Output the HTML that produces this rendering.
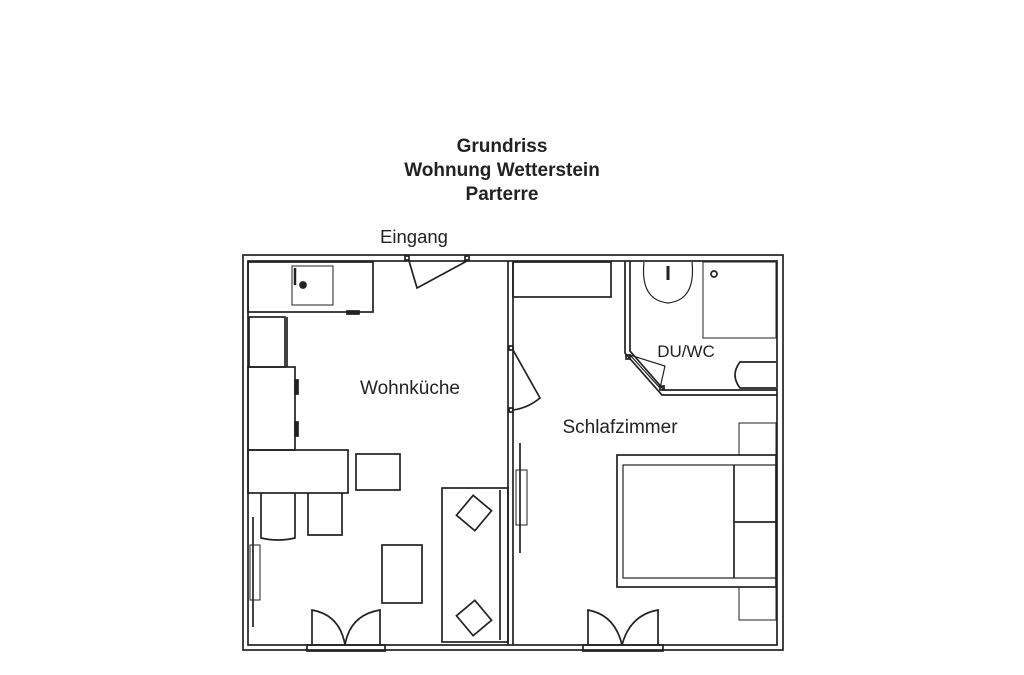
<!DOCTYPE html>
<html><head><meta charset="utf-8"><style>
body{margin:0;background:#fff;width:1024px;height:675px;overflow:hidden}
svg{display:block}
text{font-family:"Liberation Sans",Arial,sans-serif;fill:#222}
</style></head><body>
<svg width="1024" height="675" viewBox="0 0 1024 675" xmlns="http://www.w3.org/2000/svg">
<g font-weight="bold" font-size="19" text-anchor="middle">
<text x="502" y="152">Grundriss</text>
<text x="502" y="176">Wohnung Wetterstein</text>
<text x="502" y="200">Parterre</text>
</g>
<text x="414" y="243" font-size="18.5" text-anchor="middle">Eingang</text>
<g fill="none" stroke="#222" stroke-width="1.7">
<rect x="243" y="255" width="540" height="395"/>
<rect x="248" y="261" width="529" height="384"/>
<line x1="508" y1="261" x2="508" y2="645"/>
<line x1="513" y1="261" x2="513" y2="645"/>
<polyline points="625,261 625,353 662,395 777,395"/>
<polyline points="630,261 630,351 664,390 777,390"/>
<rect x="703" y="262" width="73" height="76" stroke-width="1"/>
<path d="M644,262 Q640,300 668,303 Q696,300 692,262" stroke-width="1.2"/>
<circle cx="714" cy="274" r="3"/>
<line x1="668" y1="266" x2="668" y2="280" stroke-width="3"/>
<path d="M776,362 L740,362 Q730,375 740,388 L776,388"/>
<polygon points="630,355 665,366 660,388 660,388" stroke-width="1.2"/>
<rect x="626" y="355" width="4" height="4"/><rect x="660" y="386" width="4" height="4"/>
<rect x="513" y="262" width="98" height="35"/>
<rect x="509" y="346" width="4" height="4"/><rect x="509" y="408" width="4" height="4"/>
<path d="M513,350 L540,398 Q528,408 513,410"/>
<line x1="520" y1="443" x2="520" y2="553"/><rect x="516" y="470" width="11" height="55" stroke-width="1"/>
<rect x="617" y="455" width="159" height="132"/>
<rect x="623" y="465" width="153" height="113" stroke-width="1.2"/>
<line x1="734" y1="465" x2="734" y2="578"/>
<line x1="734" y1="522" x2="776" y2="522"/>
<rect x="739" y="423" width="37" height="32" stroke-width="1"/>
<rect x="739" y="587" width="37" height="33" stroke-width="1"/>
<rect x="583" y="645" width="80" height="6"/>
<path d="M588,645 L588,610 Q615,615 622,645 M658,645 L658,610 Q630,615 622,645"/>
<rect x="248" y="262" width="125" height="50"/>
<rect x="292" y="266" width="41" height="39" stroke-width="1"/>
<circle cx="303" cy="285" r="3" fill="#222"/>
<line x1="295" y1="268" x2="295" y2="285" stroke-width="2.5"/>
<rect x="347" y="311" width="12" height="3" fill="#222"/>
<rect x="249" y="317" width="36" height="50"/>
<line x1="287" y1="317" x2="287" y2="367"/>
<rect x="248" y="367" width="47" height="83"/>
<rect x="295" y="380" width="3" height="14" fill="#222"/><rect x="295" y="422" width="3" height="14" fill="#222"/>
<rect x="248" y="450" width="100" height="43"/>
<path d="M261,493 L261,538 Q278,542 295,538 L295,493"/>
<path d="M308,493 L308,535 L342,535 L342,493"/>
<rect x="356" y="454" width="44" height="36"/>
<rect x="382" y="545" width="40" height="58"/>
<rect x="442" y="488" width="66" height="154"/>
<line x1="500" y1="490" x2="500" y2="640"/>
<rect x="462" y="500" width="24" height="26" transform="rotate(40 474 513)"/>
<rect x="462" y="605" width="24" height="26" transform="rotate(-40 474 618)"/>
<line x1="253" y1="517" x2="253" y2="627"/><rect x="250" y="545" width="10" height="55" stroke-width="1"/>
<rect x="405" y="256" width="4" height="4"/><rect x="465" y="256" width="4" height="4"/>
<path d="M409,261 L417,288 L467,261"/>
<rect x="307" y="645" width="78" height="6"/>
<path d="M312,645 L312,610 Q340,615 345,645 M380,645 L380,610 Q350,615 345,645"/>
</g>
<text x="410" y="394" font-size="19" text-anchor="middle">Wohnküche</text>
<text x="620" y="433" font-size="19" text-anchor="middle">Schlafzimmer</text>
<text x="686" y="357" font-size="17" text-anchor="middle">DU/WC</text>
</svg>
</body></html>
